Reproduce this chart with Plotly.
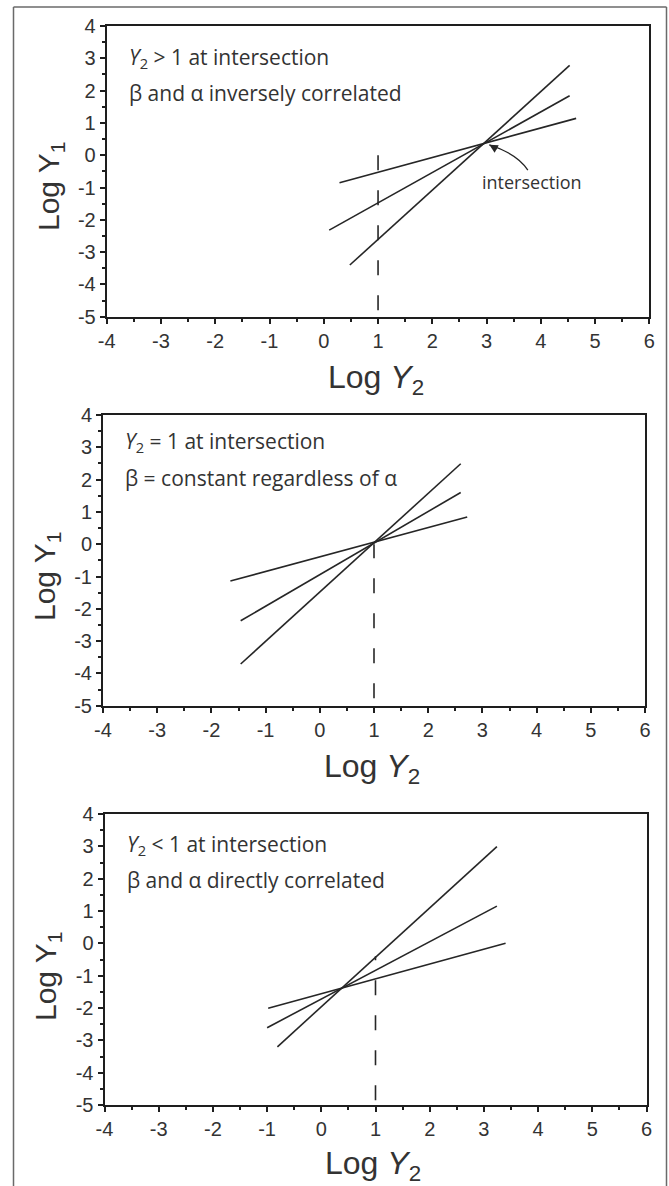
import plotly.graph_objects as go

W, H = 669, 1186

# ---------------- data ----------------
x_range = [-4, 6]
y_range = [-5, 4]
x_ticks = [-4, -3, -2, -1, 0, 1, 2, 3, 4, 5, 6]
y_ticks = [-5, -4, -3, -2, -1, 0, 1, 2, 3, 4]
x_ticktext = ["-4", "-3", "-2", "-1", "0", "1", "2", "3", "4", "5", "6"]
y_ticktext = ["-5", "-4", "-3", "-2", "-1", "0", "1", "2", "3", "4"]

# panel 1 : Y2 > 1 at intersection
p1_x0 = [0.29, 0.10, 0.48]
p1_y0 = [-0.85, -2.32, -3.40]
p1_x1 = [4.65, 4.53, 4.53]
p1_y1 = [1.14, 1.84, 2.78]
p1_dash_y = [-4.8, 0.15]

# panel 2 : Y2 = 1 at intersection
p2_x0 = [-1.65, -1.46, -1.46]
p2_y0 = [-1.14, -2.37, -3.71]
p2_x1 = [2.72, 2.60, 2.60]
p2_y1 = [0.84, 1.60, 2.49]
p2_dash_y = [-4.77, 0.0]

# panel 3 : Y2 < 1 at intersection
p3_x0 = [-0.98, -1.00, -0.81]
p3_y0 = [-2.01, -2.61, -3.20]
p3_x1 = [3.40, 3.24, 3.24]
p3_y1 = [0.00, 1.15, 2.99]
p3_dash_y = [-4.85, -0.40]

dash_x = 1

line1_text = ["<i>Y</i><sub>2</sub> > 1 at intersection",
              "<i>Y</i><sub>2</sub> = 1 at intersection",
              "<i>Y</i><sub>2</sub> < 1 at intersection"]
line2_text = ["β and α inversely correlated",
              "β = constant regardless of α",
              "β and α directly correlated"]
line1_y = [3.0, 3.15, 3.05]
line2_y = [1.92, 2.05, 1.95]

# intersection label / curved arrow (panel 1)
inter_label = "intersection"
inter_label_xy = [3.84, -0.83]
arrow_start = [3.76, -0.46]
arrow_ctrl = [3.56, 0.05]
arrow_tip = [3.05, 0.32]

# ---------------- layout (pixels) ----------------
panels_px = [  # left, right, top, bottom
    (106.7, 649.4, 26.0, 316.7),
    (103.0, 645.0, 415.0, 705.7),
    (104.5, 646.5, 814.0, 1105.0),
]
xtitle_px = [(376, 379), (372, 768), (373, 1165)]
ytitle_px = [(50, 186), (47, 576), (47, 976)]

LINE_C = "#262626"
AXIS_C = "#1e1e1e"
TEXT_C = "#333333"

fig = go.Figure()

panels = [
    (p1_x0, p1_y0, p1_x1, p1_y1, p1_dash_y),
    (p2_x0, p2_y0, p2_x1, p2_y1, p2_dash_y),
    (p3_x0, p3_y0, p3_x1, p3_y1, p3_dash_y),
]

annotations = []
shapes = []

for i, (xs0, ys0, xs1, ys1, dy) in enumerate(panels):
    ax_id = "" if i == 0 else str(i + 1)
    xa, ya = "x" + ax_id, "y" + ax_id
    for a, b, c, d in zip(xs0, ys0, xs1, ys1):
        fig.add_trace(go.Scatter(x=[a, c], y=[b, d], mode="lines",
                                 line=dict(color=LINE_C, width=1.6),
                                 xaxis=xa, yaxis=ya, showlegend=False,
                                 hoverinfo="skip"))
    fig.add_trace(go.Scatter(x=[dash_x, dash_x], y=dy, mode="lines",
                             line=dict(color=LINE_C, width=1.6, dash="15px,20px"),
                             xaxis=xa, yaxis=ya, showlegend=False,
                             hoverinfo="skip"))

    l, r, t, b = panels_px[i]
    axis_common = dict(
        showgrid=False, zeroline=False, showline=True, linewidth=2,
        linecolor=AXIS_C, mirror=True, ticks="outside", ticklen=5,
        tickwidth=1.5, tickcolor=AXIS_C, automargin=False,
        tickfont=dict(family="Liberation Sans, Arial", size=20, color=TEXT_C),
        minor=dict(dtick=0.5, ticks="outside", ticklen=3, tickwidth=1.5,
                   tickcolor=AXIS_C, showgrid=False),
    )
    fig.layout["xaxis" + ax_id] = dict(
        axis_common, range=x_range, tickvals=x_ticks, ticktext=x_ticktext,
        domain=[l / W, r / W], anchor=ya, fixedrange=True)
    fig.layout["yaxis" + ax_id] = dict(
        axis_common, range=y_range, tickvals=y_ticks, ticktext=y_ticktext,
        domain=[1 - b / H, 1 - t / H], anchor=xa, fixedrange=True)

    # panel texts
    for txt, yy in ((line1_text[i], line1_y[i]), (line2_text[i], line2_y[i])):
        annotations.append(dict(
            x=-3.63, y=yy, xref=xa, yref=ya, text=txt, showarrow=False,
            xanchor="left", yanchor="middle",
            font=dict(family="Open Sans, Lato", size=21, color=TEXT_C)))

    # axis titles
    xt = xtitle_px[i]
    annotations.append(dict(
        x=xt[0] / W, y=1 - xt[1] / H, xref="paper", yref="paper",
        text="Log <i>Y</i><sub>2</sub>", showarrow=False,
        xanchor="center", yanchor="middle",
        font=dict(family="Liberation Sans, Arial", size=32, color=TEXT_C)))
    yt = ytitle_px[i]
    annotations.append(dict(
        x=yt[0] / W, y=1 - yt[1] / H, xref="paper", yref="paper",
        text="Log Y<sub>1</sub>", showarrow=False, textangle=-90,
        xanchor="center", yanchor="middle",
        font=dict(family="Liberation Sans, Arial", size=30, color=TEXT_C)))

# intersection label + curved arrow (panel 1)
annotations.append(dict(
    x=inter_label_xy[0], y=inter_label_xy[1], xref="x", yref="y",
    text=inter_label, showarrow=False, xanchor="center", yanchor="middle",
    font=dict(family="Open Sans, Lato", size=18, color=TEXT_C)))
shapes.append(dict(
    type="path", xref="x", yref="y",
    path=f"M {arrow_start[0]},{arrow_start[1]} Q {arrow_ctrl[0]},{arrow_ctrl[1]} "
         f"{arrow_tip[0]},{arrow_tip[1]}",
    line=dict(color=LINE_C, width=1.3)))
annotations.append(dict(
    x=arrow_tip[0], y=arrow_tip[1], xref="x", yref="y", text="",
    showarrow=True, arrowhead=2, arrowsize=1.3, arrowwidth=1.3,
    arrowcolor=LINE_C, ax=9, ay=5, axref="pixel", ayref="pixel", standoff=0))

# outer frame
FR = "#6a6a6a"
shapes += [
    dict(type="line", xref="paper", yref="paper", x0=13.5 / W, x1=13.5 / W,
         y0=0, y1=1 - 7 / H, line=dict(color=FR, width=1.5)),
    dict(type="line", xref="paper", yref="paper", x0=666.5 / W, x1=666.5 / W,
         y0=0, y1=1 - 7 / H, line=dict(color=FR, width=1.5)),
    dict(type="line", xref="paper", yref="paper", x0=13.5 / W, x1=666.5 / W,
         y0=1 - 7 / H, y1=1 - 7 / H, line=dict(color=FR, width=1.5)),
]

fig.update_layout(
    width=W, height=H,
    margin=dict(l=0, r=0, t=0, b=0, pad=0, autoexpand=False),
    paper_bgcolor="white", plot_bgcolor="white",
    annotations=annotations, shapes=shapes, showlegend=False,
)

fig.write_html("out.html", config={"displayModeBar": False})
